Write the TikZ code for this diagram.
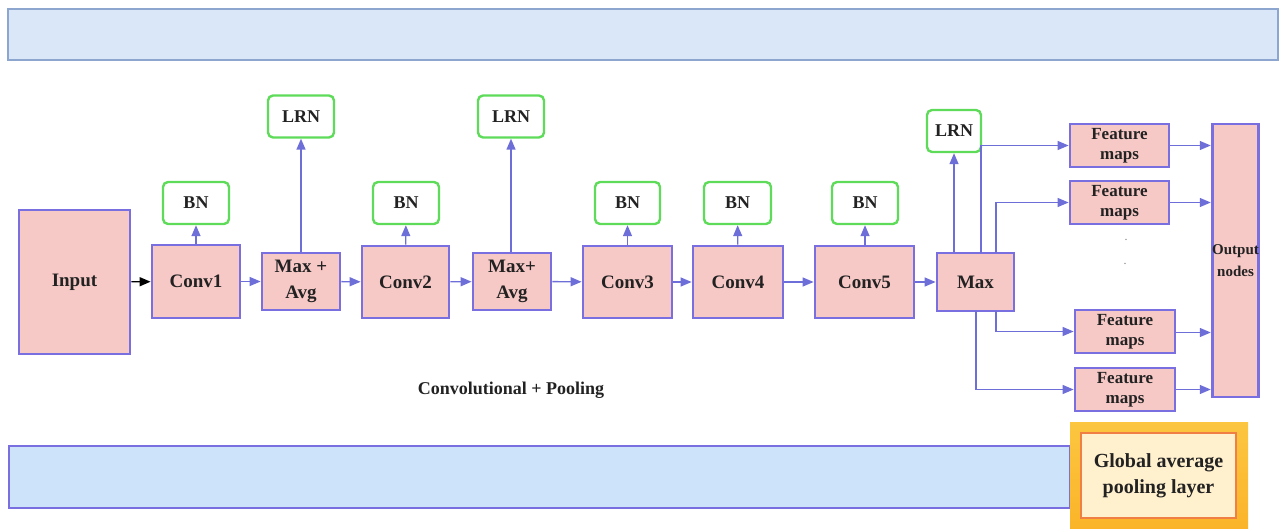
\documentclass[tikz,border=0pt]{standalone}
\usepackage{fontspec}
\setmainfont{Liberation Serif}
\usetikzlibrary{arrows.meta}
\definecolor{bandedge}{HTML}{8DA6CF}
\definecolor{bandfill}{HTML}{D9E7F8}
\definecolor{lowfill}{HTML}{CCE3FA}
\definecolor{boxedge}{HTML}{7A6FE0}
\definecolor{boxfill}{HTML}{F7C9C6}
\definecolor{normedge}{HTML}{5FDB5A}
\definecolor{linkcol}{HTML}{6E6ED8}
\definecolor{gapouter}{HTML}{FBB429}
\definecolor{gaptop}{HTML}{FCC640}
\definecolor{gapinner}{HTML}{FFF0CE}
\definecolor{gapedge}{HTML}{EF7F45}
\definecolor{inkcol}{HTML}{222222}
\tikzset{
  layer/.style={draw=boxedge, fill=boxfill, line width=2.8pt, inner sep=1pt,
    text=inkcol, font=\bfseries\fontsize{19}{20}\selectfont, align=center},
  pool/.style={layer, minimum width=78, minimum height=57,
    font=\bfseries\fontsize{19}{26}\selectfont},
  norm/.style={draw=normedge, fill=white, line width=2.4pt, rounded corners=5pt,
    minimum width=66, minimum height=42, text=inkcol,
    font=\bfseries\fontsize{18}{19}\selectfont},
  fmap/.style={layer, minimum height=43, inner sep=0pt,
    font=\bfseries\fontsize{17}{20}\selectfont},
  link/.style={draw=linkcol, line width=1.4pt, -{Triangle[length=11pt,width=9pt]}},
}
\begin{document}
\begin{tikzpicture}[x=1pt, y=-1pt]
  \useasboundingbox (0,0) rectangle (1282,529);
  % header band
  \draw[draw=bandedge, fill=bandfill, line width=2.6pt] (8,9) rectangle (1278,60);
  % footer band
  \draw[draw=boxedge, fill=lowfill, line width=2pt] (9,446) rectangle (1070,508);
  % global average pooling block
  \shade[top color=gaptop, bottom color=gapouter] (1070,422) rectangle (1248,529);
  \node[draw=gapedge, fill=gapinner, line width=2.4pt, minimum width=155, minimum height=85,
        text=inkcol, align=center, font=\bfseries\fontsize{20}{26}\selectfont]
        (gap) at (1158.5,475.5) {Global average\\pooling layer};

  % main chain
  \node[layer, minimum width=111, minimum height=144] (in) at (74.5,282) {Input};
  \node[layer, minimum width=88, minimum height=73] (c1) at (196,281.5) {Conv1};
  \node[pool] (p1) at (301,281.5) {Max +\\Avg};
  \node[layer, minimum width=87, minimum height=72] (c2) at (405.5,282) {Conv2};
  \node[pool] (p2) at (512,281.5) {Max+\\Avg};
  \node[layer, minimum width=89, minimum height=72] (c3) at (627.5,282) {Conv3};
  \node[layer, minimum width=90, minimum height=72] (c4) at (738,282) {Conv4};
  \node[layer, minimum width=99, minimum height=72] (c5) at (864.5,282) {Conv5};
  \node[layer, minimum width=77, minimum height=58] (mx) at (975.5,282) {Max};

  % normalisation boxes
  \node[norm] (b1) at (196,203) {BN};
  \node[norm] (b2) at (406,203) {BN};
  \node[norm, minimum width=65] (b3) at (627.5,203) {BN};
  \node[norm, minimum width=67] (b4) at (737.5,203) {BN};
  \node[norm, minimum width=66] (b5) at (865,203) {BN};
  \node[norm] (l1) at (301,116.5) {LRN};
  \node[norm] (l2) at (511,116.5) {LRN};
  \node[norm, minimum width=54] (l3) at (954,131) {LRN};

  % feature maps and output
  \node[fmap, minimum width=99] (f1) at (1119.5,145.5) {Feature\\maps};
  \node[fmap, minimum width=99] (f2) at (1119.5,202.5) {Feature\\maps};
  \node[fmap, minimum width=100] (f3) at (1125,331.5) {Feature\\maps};
  \node[fmap, minimum width=100] (f4) at (1125,389.5) {Feature\\maps};
  \node[layer, minimum width=45, minimum height=273, inner sep=0pt,
        font=\bfseries\fontsize{15}{22}\selectfont] (out) at (1235.5,260.5) {Output\\nodes};
  \node[font=\fontsize{12}{12}\selectfont, text=gray] (d1) at (1126,240) {.};
  \node[font=\fontsize{12}{12}\selectfont, text=gray] (d2) at (1125,264) {.};

  % caption
  \node[text=inkcol, font=\bfseries\fontsize{18}{20}\selectfont] (cap) at (511,390) {Convolutional + Pooling};

  % connectors along the chain
  \draw[link, draw=black] (in) -- (c1);
  \draw[link] (c1) -- (p1);
  \draw[link] (p1) -- (c2);
  \draw[link] (c2) -- (p2);
  \draw[link] (p2) -- (c3);
  \draw[link] (c3) -- (c4);
  \draw[link] (c4) -- (c5);
  \draw[link] (c5) -- (mx);

  % connectors to the normalisation boxes
  \draw[link] (c1) -- (b1);
  \draw[link] (c2) -- (b2);
  \draw[link] (c3) -- (b3);
  \draw[link] (c4) -- (b4);
  \draw[link] (c5.north -| b5) -- (b5);
  \draw[link] (p1) -- (l1);
  \draw[link] (p2.north -| l2) -- (l2);
  \draw[link] (mx.north -| l3) -- (l3);

  % branches from the max pooling stage
  \coordinate (m1) at (981,253);
  \coordinate (m2) at (996,253);
  \coordinate (m3) at (996,311);
  \coordinate (m4) at (976,311);
  \draw[link] (m1) |- (f1.west);
  \draw[link] (m2) |- (f2.west);
  \draw[link] (m3) |- (f3.west);
  \draw[link] (m4) |- (f4.west);

  % feature maps into the output nodes
  \draw[link] (f1.east) -- (f1.east -| out.west);
  \draw[link] (f2.east) -- (f2.east -| out.west);
  \draw[link] ([yshift=-1pt]f3.east) -- ([yshift=-1pt]f3.east -| out.west);
  \draw[link] (f4.east) -- (f4.east -| out.west);
\end{tikzpicture}
\end{document}
